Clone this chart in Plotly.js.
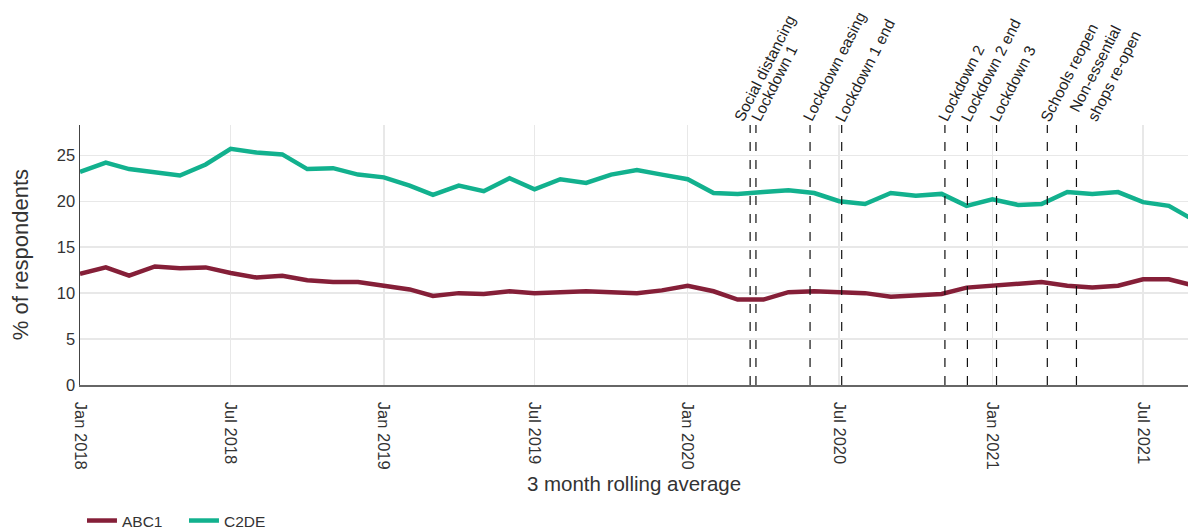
<!DOCTYPE html>
<html>
<head>
<meta charset="utf-8">
<script src="https://cdn.plot.ly/plotly-3.0.1.min.js"></script>
<style>
html,body{margin:0;padding:0;background:#fff;}
#chart{width:1188px;height:530px;}
</style>
</head>
<body>
<div id="chart"></div>
<script>
// Monthly dates Jan 2018 .. Sep 2021
const months = [
 "2018-01-01","2018-02-01","2018-03-01","2018-04-01","2018-05-01","2018-06-01",
 "2018-07-01","2018-08-01","2018-09-01","2018-10-01","2018-11-01","2018-12-01",
 "2019-01-01","2019-02-01","2019-03-01","2019-04-01","2019-05-01","2019-06-01",
 "2019-07-01","2019-08-01","2019-09-01","2019-10-01","2019-11-01","2019-12-01",
 "2020-01-01","2020-02-01","2020-03-01","2020-04-01","2020-05-01","2020-06-01",
 "2020-07-01","2020-08-01","2020-09-01","2020-10-01","2020-11-01","2020-12-01",
 "2021-01-01","2021-02-01","2021-03-01","2021-04-01","2021-05-01","2021-06-01",
 "2021-07-01","2021-08-01","2021-09-01"
];
const abc1 = [
 12.1,12.8,11.9,12.9,12.7,12.8,12.2,11.7,11.9,11.4,11.2,11.2,
 10.8,10.4,9.7,10.0,9.9,10.2,10.0,10.1,10.2,10.1,10.0,10.3,
 10.8,10.2,9.3,9.3,10.1,10.2,10.1,10.0,9.6,9.8,9.9,10.6,
 10.8,11.0,11.2,10.8,10.6,10.8,11.5,11.5,10.8
];
const c2de = [
 23.2,24.2,23.5,23.2,22.8,24.0,25.7,25.3,25.1,23.5,23.6,22.9,
 22.6,21.7,20.7,21.7,21.1,22.5,21.3,22.4,22.0,22.9,23.4,22.9,
 22.4,20.9,20.8,21.0,21.2,20.9,20.0,19.7,20.9,20.6,20.8,19.5,
 20.2,19.6,19.7,21.0,20.8,21.0,19.9,19.5,17.9
];
const eventDates = ["2020-03-16","2020-03-23","2020-05-27","2020-07-04","2020-11-05","2020-12-02","2021-01-06","2021-03-08","2021-04-12"];
const eventLabels = ["Social distancing","Lockdown 1","Lockdown easing","Lockdown 1 end","Lockdown 2","Lockdown 2 end","Lockdown 3","Schools reopen","Non-essential<br>shops re-open"];
const tickVals = ["2018-01-01","2018-07-01","2019-01-01","2019-07-01","2020-01-01","2020-07-01","2021-01-01","2021-07-01"];
const tickText = ["Jan 2018","Jul 2018","Jan 2019","Jul 2019","Jan 2020","Jul 2020","Jan 2021","Jul 2021"];
const yTitle = "% of respondents";

const FONT = "Liberation Sans, Arial, sans-serif";

const traces = [
 {x: months, y: abc1, name: "ABC1", type: "scatter", mode: "lines",
  line: {color: "#851f38", width: 4.5}},
 {x: months, y: c2de, name: "C2DE", type: "scatter", mode: "lines",
  line: {color: "#12b18e", width: 4.5}}
];

const shapes = eventDates.map(d => ({
 type: "line", xref: "x", yref: "paper", x0: d, x1: d, y0: 0, y1: 1,
 line: {color: "#111", width: 1.2, dash: "dash"}
}));

// label nudges so the two March 2020 labels do not collide
const labelShift = i => (i === 0 ? -22 : (i === 1 ? -11 : -13));

const annotations = eventDates.map((d, i) => ({
 x: d, xref: "x", y: 1, yref: "paper", text: eventLabels[i],
 showarrow: false, textangle: -63, xanchor: "left", yanchor: "bottom",
 align: "left", xshift: labelShift(i), yshift: -2,
 font: {family: FONT, size: 15.5, color: "#222"}
}));
// y-axis title drawn as a rotated annotation
annotations.push({
 x: -0.054, xref: "paper", y: 0.5, yref: "paper", text: yTitle,
 showarrow: false, textangle: -90, xanchor: "center", yanchor: "middle",
 font: {family: FONT, size: 22, color: "#333"}
});

const layout = {
 width: 1188, height: 530,
 margin: {l: 80, r: 0, t: 125, b: 145, autoexpand: false},
 paper_bgcolor: "#fff", plot_bgcolor: "#fff",
 font: {family: FONT, color: "#333"},
 showlegend: true,
 legend: {orientation: "h", xref: "container", x: 0.069, xanchor: "left",
  yref: "paper", y: -0.4575, yanchor: "top",
  entrywidth: 57, entrywidthmode: "pixels",
  font: {family: FONT, size: 15.5, color: "#333"}},
 xaxis: {
  type: "date", range: ["2018-01-01", "2021-08-24"], automargin: false,
  tickmode: "array", tickvals: tickVals, ticktext: tickText, tickangle: 90,
  tickfont: {family: FONT, size: 16.5, color: "#333"}, ticklabelstandoff: 12,
  showgrid: true, gridcolor: "#e8e8e8", gridwidth: 1.5,
  showline: true, linecolor: "#666", linewidth: 1.5,
  ticks: "", zeroline: false,
  title: {text: "3 month rolling average", font: {family: FONT, size: 20.5, color: "#333"}}
 },
 yaxis: {
  range: [0, 28.3], tickvals: [0,5,10,15,20,25], automargin: false,
  tickfont: {family: FONT, size: 16.5, color: "#333"},
  showgrid: true, gridcolor: "#e8e8e8", gridwidth: 1.5,
  showline: true, linecolor: "#444", linewidth: 1.5,
  zeroline: false, ticks: ""
 },
 shapes: shapes,
 annotations: annotations
};

Plotly.newPlot("chart", traces, layout, {displayModeBar: false, staticPlot: true});
</script>
</body>
</html>
